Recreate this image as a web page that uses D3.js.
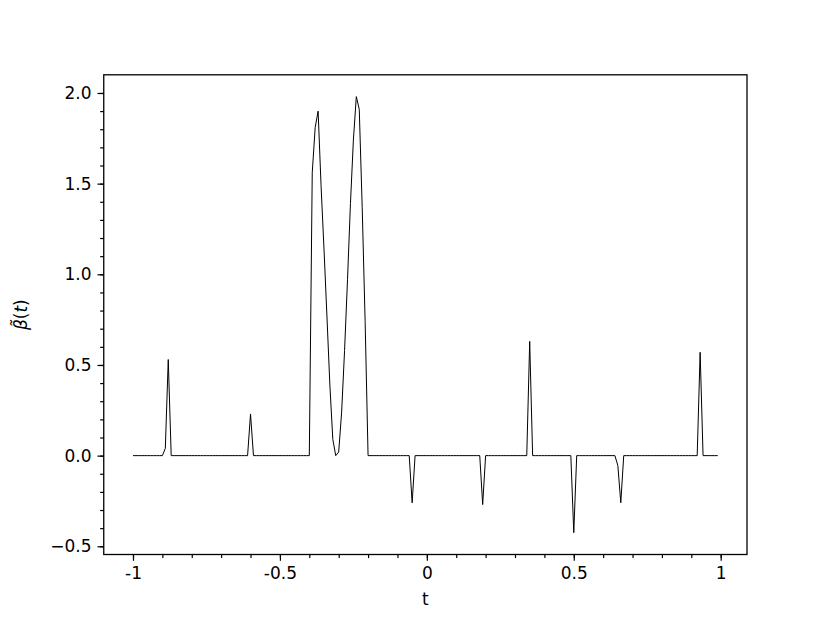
<!DOCTYPE html>
<html>
<head>
<meta charset="utf-8">
<script src="https://cdn.jsdelivr.net/npm/d3@7"></script>
<style>
  body { margin: 0; background: #fff; }
  text { font-family: "DejaVu Sans", sans-serif; }
</style>
</head>
<body>
<div id="chart"></div>
<script>
// sampling grid of t: -1.00 ... 0.99, step 0.01
const tGrid = d3.range(200).map(i => Math.round((-1 + i * 0.01) * 100) / 100);

// beta tilde values, one row per 0.1 of t
const betaValues = [
  0, 0, 0, 0, 0, 0, 0, 0, 0, 0,                       // -1.00 .. -0.91
  0, 0.04, 0.53, 0, 0, 0, 0, 0, 0, 0,                 // -0.90 .. -0.81
  0, 0, 0, 0, 0, 0, 0, 0, 0, 0,                       // -0.80 .. -0.71
  0, 0, 0, 0, 0, 0, 0, 0, 0, 0,                       // -0.70 .. -0.61
  0.23, 0, 0, 0, 0, 0, 0, 0, 0, 0,                    // -0.60 .. -0.51
  0, 0, 0, 0, 0, 0, 0, 0, 0, 0,                       // -0.50 .. -0.41
  0, 1.56, 1.81, 1.90, 1.49, 1.14, 0.77, 0.39, 0.09, 0.0,   // -0.40 .. -0.31
  0.02, 0.24, 0.58, 0.97, 1.39, 1.74, 1.98, 1.91, 1.37, 0.74, // -0.30 .. -0.21
  0, 0, 0, 0, 0, 0, 0, 0, 0, 0,                       // -0.20 .. -0.11
  0, 0, 0, 0, 0, -0.26, 0, 0, 0, 0,                   // -0.10 .. -0.01
  0, 0, 0, 0, 0, 0, 0, 0, 0, 0,                       //  0.00 .. 0.09
  0, 0, 0, 0, 0, 0, 0, 0, 0, -0.27,                   //  0.10 .. 0.19
  0, 0, 0, 0, 0, 0, 0, 0, 0, 0,                       //  0.20 .. 0.29
  0, 0, 0, 0, 0, 0.63, 0, 0, 0, 0,                    //  0.30 .. 0.39
  0, 0, 0, 0, 0, 0, 0, 0, 0, 0,                       //  0.40 .. 0.49
  -0.425, 0, 0, 0, 0, 0, 0, 0, 0, 0,                  //  0.50 .. 0.59
  0, 0, 0, 0, 0, -0.055, -0.26, 0, 0, 0,              //  0.60 .. 0.69
  0, 0, 0, 0, 0, 0, 0, 0, 0, 0,                       //  0.70 .. 0.79
  0, 0, 0, 0, 0, 0, 0, 0, 0, 0,                       //  0.80 .. 0.89
  0, 0, 0, 0.57, 0, 0, 0, 0, 0, 0                     //  0.90 .. 0.99
];

// tick positions and their labels
const xTicks = [-1, -0.5, 0, 0.5, 1];
const xTickLabels = ["-1", "-0.5", "0", "0.5", "1"];
const xMinorTicks = d3.range(-10, 11).map(d => d / 10);
const yTicks = [-0.5, 0, 0.5, 1.0, 1.5, 2.0];
const yTickLabels = ["\u22120.5", "0.0", "0.5", "1.0", "1.5", "2.0"];
const yMinorTicks = d3.range(-5, 21).map(d => d / 10);

const data = tGrid.map((t, i) => ({ t: t, value: betaValues[i] }));

let W = 830, H = 623;
let margin = {top: 74.8, right: 83, bottom: 68.5, left: 103.75};
let width = W - margin.left - margin.right;
let height = H - margin.top - margin.bottom;

let svg = d3.select("#chart")
  .append("svg")
    .attr("width", W)
    .attr("height", H)
  .append("g")
    .attr("transform", "translate(" + margin.left + "," + margin.top + ")");

// 5% padding around the data, like matplotlib does
function padded(ext) {
  let pad = (ext[1] - ext[0]) * 0.05;
  return [ext[0] - pad, ext[1] + pad];
}

let x = d3.scaleLinear()
  .domain(padded(d3.extent(data, d => d.t)))
  .range([0, width]);
let y = d3.scaleLinear()
  .domain(padded(d3.extent(data, d => d.value)))
  .range([height, 0]);

const fontSize = 17;

// minor ticks first, then major ticks with labels
let xMinor = svg.append("g")
  .attr("transform", "translate(0," + height + ")")
  .call(d3.axisBottom(x).tickValues(xMinorTicks).tickSize(3.6).tickFormat(""));
let xAxis = svg.append("g")
  .attr("transform", "translate(0," + height + ")")
  .call(d3.axisBottom(x).tickValues(xTicks).tickSize(6.3).tickPadding(6)
    .tickFormat((d, i) => xTickLabels[i]));

let yMinor = svg.append("g")
  .call(d3.axisLeft(y).tickValues(yMinorTicks).tickSize(3.6).tickFormat(""));
let yAxis = svg.append("g")
  .call(d3.axisLeft(y).tickValues(yTicks).tickSize(6.3).tickPadding(6)
    .tickFormat((d, i) => yTickLabels[i]));

[xMinor, xAxis, yMinor, yAxis].forEach(g => {
  g.select(".domain").remove();
  g.selectAll("line").attr("stroke", "#000").attr("stroke-width", 1.2);
  g.selectAll("text")
    .attr("fill", "#000")
    .style("font-size", fontSize + "px")
    .style("font-family", "'DejaVu Sans', sans-serif");
});

// the data line, clipped to the axes area
svg.append("defs").append("clipPath")
  .attr("id", "clip")
  .append("rect")
  .attr("width", width)
  .attr("height", height);

svg.append("path")
  .datum(data)
  .attr("clip-path", "url(#clip)")
  .attr("fill", "none")
  .attr("stroke", "#000")
  .attr("stroke-width", 1)
  .attr("stroke-linejoin", "round")
  .attr("d", d3.line()
    .x(d => x(d.t))
    .y(d => y(d.value))
  );

// frame around the axes
svg.append("rect")
  .attr("width", width)
  .attr("height", height)
  .attr("fill", "none")
  .attr("stroke", "#000")
  .attr("stroke-width", 1.3);

// axis labels
svg.append("text")
  .attr("x", width / 2)
  .attr("y", height + 50.5)
  .attr("text-anchor", "middle")
  .style("font-size", fontSize + "px")
  .text("t");

let yLabel = svg.append("text")
  .attr("transform", "translate(" + (27 - margin.left) + "," + (height / 2) + ") rotate(-90)")
  .attr("text-anchor", "middle")
  .style("font-size", fontSize + "px");
yLabel.append("tspan").style("font-style", "italic").text("\u03B2\u0303");
yLabel.append("tspan").text("(");
yLabel.append("tspan").style("font-style", "italic").text("t");
yLabel.append("tspan").text(")");
</script>
</body>
</html>
